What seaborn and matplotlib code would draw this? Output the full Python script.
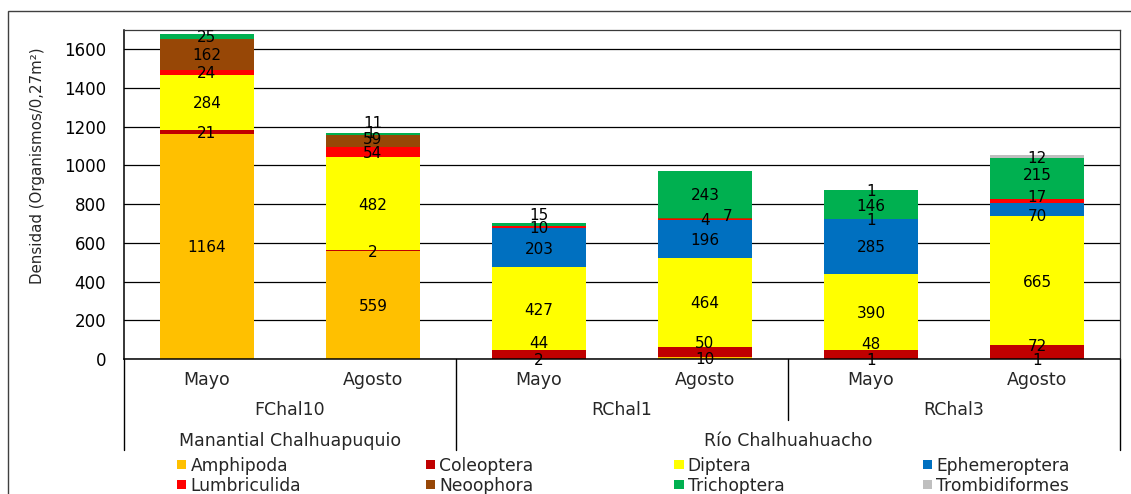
import matplotlib
matplotlib.use("Agg")
import matplotlib.pyplot as plt
from matplotlib.patches import Rectangle
from matplotlib.lines import Line2D
import numpy as np
import pandas as pd
import seaborn as sns

# ---- data -------------------------------------------------------------
months = ["Mayo", "Agosto", "Mayo", "Agosto", "Mayo", "Agosto"]
stations = ["FChal10", "RChal1", "RChal3"]
water_bodies = ["Manantial Chalhuapuquio", "Río Chalhuahuacho"]

taxa = ["Amphipoda", "Coleoptera", "Diptera", "Ephemeroptera",
        "Lumbriculida", "Neoophora", "Trichoptera", "Trombidiformes"]

amphipoda = [1164, 559, 2, 10, 1, 1]
coleoptera = [21, 2, 44, 50, 48, 72]
diptera = [284, 482, 427, 464, 390, 665]
ephemeroptera = [0, 0, 203, 196, 285, 70]
lumbriculida = [24, 54, 10, 4, 1, 17]
neoophora = [162, 59, 0, 7, 0, 0]
trichoptera = [25, 11, 15, 243, 146, 215]
trombidiformes = [0, 1, 0, 0, 1, 12]

y_ticks = [0, 200, 400, 600, 800, 1000, 1200, 1400, 1600]

# ---- styling ----------------------------------------------------------
colors = ["#FFC000", "#C00000", "#FFFF00", "#0070C0",
          "#FF0000", "#974706", "#00B050", "#BFBFBF"]

# small label offsets (pixels) where segments are too thin
label_nudge = {
    (1, "Neoophora"): (0, 3),
    (1, "Trichoptera"): (0, 12),
    (1, "Trombidiformes"): (-3, 1),
    (2, "Coleoptera"): (0, 12),
    (3, "Coleoptera"): (0, 10),
    (4, "Coleoptera"): (0, 11),
    (5, "Coleoptera"): (0, 7),
    (2, "Trichoptera"): (0, 11),
    (3, "Neoophora"): (23, 3),
    (5, "Ephemeroptera"): (0, -6),
    (5, "Lumbriculida"): (0, 5),
    (5, "Trichoptera"): (0, 5),
}

sns.set_style("white")
plt.rcParams["font.family"] = ["DejaVu Sans"]

W, H = 1131, 494
fig = plt.figure(figsize=(W / 100, H / 100), dpi=100)
ax = fig.add_axes([124 / W, 135 / H, 996 / W, 329 / H])

series = [amphipoda, coleoptera, diptera, ephemeroptera,
          lumbriculida, neoophora, trichoptera, trombidiformes]
positions = list(range(len(months)))

df = pd.DataFrame({name: vals for name, vals in zip(taxa, series)})
bottom = np.zeros(len(months))
for name, col in zip(taxa, colors):
    vals = df[name].to_numpy(dtype=float)
    sns.barplot(x=positions, y=vals, bottom=bottom, color=col,
                saturation=1, width=0.57, linewidth=0, errorbar=None, ax=ax)
    for i, (v, b) in enumerate(zip(vals, bottom)):
        if v <= 0:
            continue
        dx, dy = label_nudge.get((i, name), (0, 0))
        ax.annotate(f"{int(v)}", xy=(i, b + v / 2), xytext=(dx, dy),
                    textcoords="offset pixels", ha="center",
                    va="center_baseline", fontsize=11, color="black",
                    zorder=5)
    bottom = bottom + vals

# ---- axes -------------------------------------------------------------
ax.set_xlim(-0.5, 5.5)
ax.set_ylim(0, 1700)
ax.set_yticks(y_ticks)
ax.set_yticklabels([str(t) for t in y_ticks])
ax.tick_params(axis="y", length=0, pad=13, labelsize=12, colors="black")
ax.set_xticks(positions)
ax.set_xticklabels([])
ax.tick_params(axis="x", length=0)
ax.set_xlabel("")
ax.yaxis.grid(True, color="black", linewidth=0.9)
ax.set_axisbelow(True)
for side in ["left", "bottom"]:
    ax.spines[side].set_color("black")
    ax.spines[side].set_linewidth(1.1)
for side in ["top", "right"]:
    ax.spines[side].set_color("#3a3a3a")
    ax.spines[side].set_linewidth(0.9)
ax.spines["bottom"].set_zorder(6)

ax.text(-0.087, 0.587, "Densidad (Organismos/0,27m²)", transform=ax.transAxes,
        rotation=90, ha="center", va="center", fontsize=10.8)

# ---- multi-level category axis ----------------------------------------
xt = ax.get_xaxis_transform()


def ypx(py):
    return -(py - 359) / 329


for i, m in enumerate(months):
    ax.text(i, ypx(385), m, transform=xt, ha="center", va="baseline",
            fontsize=12.5)
for k, s in enumerate(stations):
    ax.text(2 * k + 0.5, ypx(415), s, transform=xt, ha="center",
            va="baseline", fontsize=12.5)
ax.text(0.5, ypx(446), water_bodies[0], transform=xt, ha="center",
        va="baseline", fontsize=12.5)
ax.text(3.5, ypx(446), water_bodies[1], transform=xt, ha="center",
        va="baseline", fontsize=12.5)

for xv, y_end in [(-0.5, 450), (1.5, 450), (3.5, 420), (5.5, 450)]:
    ax.add_line(Line2D([xv, xv], [0, ypx(y_end)], transform=xt,
                       color="black", linewidth=1.0, clip_on=False))

# ---- legend ------------------------------------------------------------
for i, (name, col) in enumerate(zip(taxa, colors)):
    row, c = divmod(i, 4)
    x0 = 177 + 248.5 * c
    yc = 464.7 + 19.8 * row
    fig.add_artist(Rectangle((x0 / W, 1 - (yc + 4.7) / H), 9.5 / W, 9.5 / H,
                             transform=fig.transFigure, facecolor=col,
                             edgecolor="none"))
    fig.text((x0 + 13.5) / W, 1 - (yc + 6.0) / H, name, ha="left",
             va="baseline", fontsize=12.3)

# chart frame
fig.add_artist(Rectangle((8 / W, -0.1), 1.2, 0.1 + (H - 11) / H,
                         transform=fig.transFigure, fill=False,
                         edgecolor="#404040", linewidth=1.0))

fig.savefig("out.png", dpi=100)
